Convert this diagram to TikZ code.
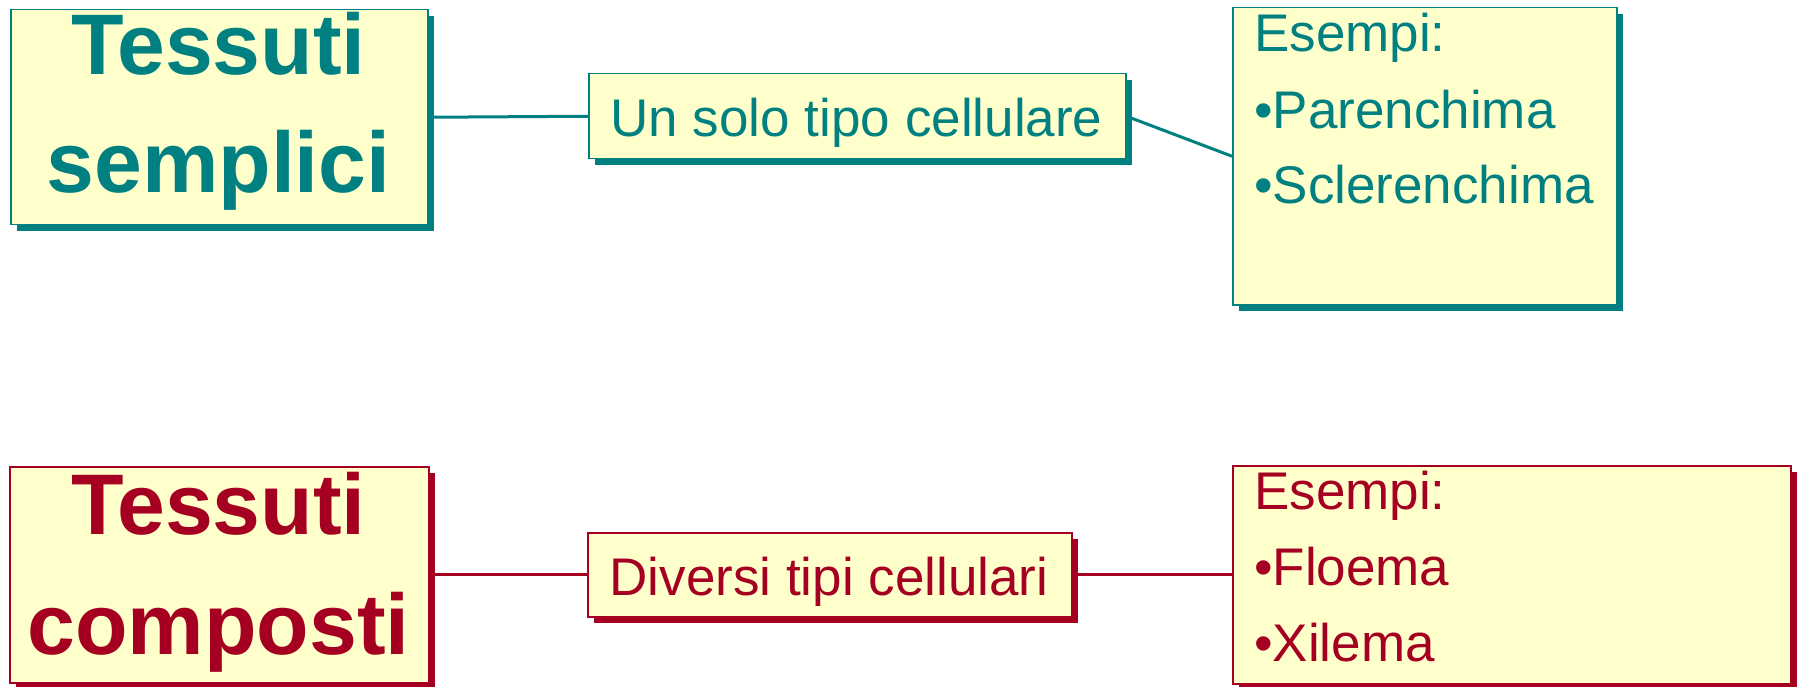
\documentclass[tikz,border=0pt]{standalone}
\usepackage{fontspec}
\setmainfont{Liberation Sans}
\usetikzlibrary{shadows}
\definecolor{tealc}{HTML}{008080}
\definecolor{redc}{HTML}{A50021}
\definecolor{boxfill}{HTML}{FFFFCC}
\tikzset{
 box/.style={draw=#1, line width=1.5pt, fill=boxfill, inner sep=0pt, anchor=north west,
   drop shadow={shadow xshift=6pt, shadow yshift=-6pt, fill=#1, opacity=1}},
 conn/.style={draw=#1, line width=3pt},
 titletxt/.style={text=#1, font=\fontsize{86}{100}\selectfont\bfseries, anchor=base, inner sep=0pt},
 labeltxt/.style={text=#1, font=\fontsize{53}{60}\selectfont, anchor=base, inner sep=0pt},
 listtxt/.style={text=#1, font=\fontsize{53}{60}\selectfont, anchor=base west, inner sep=0pt},
}
\begin{document}
\begin{tikzpicture}[x=1pt,y=-1pt]
\useasboundingbox (0,0) rectangle (1800,687);
% top row
\node[box=tealc, minimum width=417pt, minimum height=215pt] (ts) at (10,9) {};
\node[box=tealc, minimum width=537pt, minimum height=85pt] (us) at (588,73) {};
\node[box=tealc, minimum width=384pt, minimum height=297pt] (e1) at (1232,7) {};
\draw[conn=tealc] (ts.east) -- (us.west);
\draw[conn=tealc] (us.east) -- (e1.west);
\node[titletxt=tealc] (ts1) at (218.5,75) {Tessuti};
\node[titletxt=tealc] (ts2) at (218.5,193) {semplici};
\node[labeltxt=tealc] (ust) at (856.5,137) {Un solo tipo cellulare};
\node[listtxt=tealc] (e1a) at (1254,52) {Esempi:};
\node[listtxt=tealc] (e1b) at (1254,129) {•Parenchima};
\node[listtxt=tealc] (e1c) at (1254,204) {•Sclerenchima};
% bottom row
\node[box=redc, minimum width=419pt, minimum height=216pt] (tc) at (9,466) {};
\node[box=redc, minimum width=484pt, minimum height=84pt] (dt) at (587,532) {};
\node[box=redc, minimum width=558pt, minimum height=218pt] (e2) at (1232,465) {};
\draw[conn=redc] (tc.east) -- (dt.west);
\draw[conn=redc] (dt.east) -- (e2.west);
\node[titletxt=redc] (tc1) at (218.5,534) {Tessuti};
\node[titletxt=redc] (tc2) at (218.5,654) {composti};
\node[labeltxt=redc] (dtt) at (829,595) {Diversi tipi cellulari};
\node[listtxt=redc] (e2a) at (1254,509) {Esempi:};
\node[listtxt=redc] (e2b) at (1254,585) {•Floema};
\node[listtxt=redc] (e2c) at (1254,661) {•Xilema};
\end{tikzpicture}
\end{document}
